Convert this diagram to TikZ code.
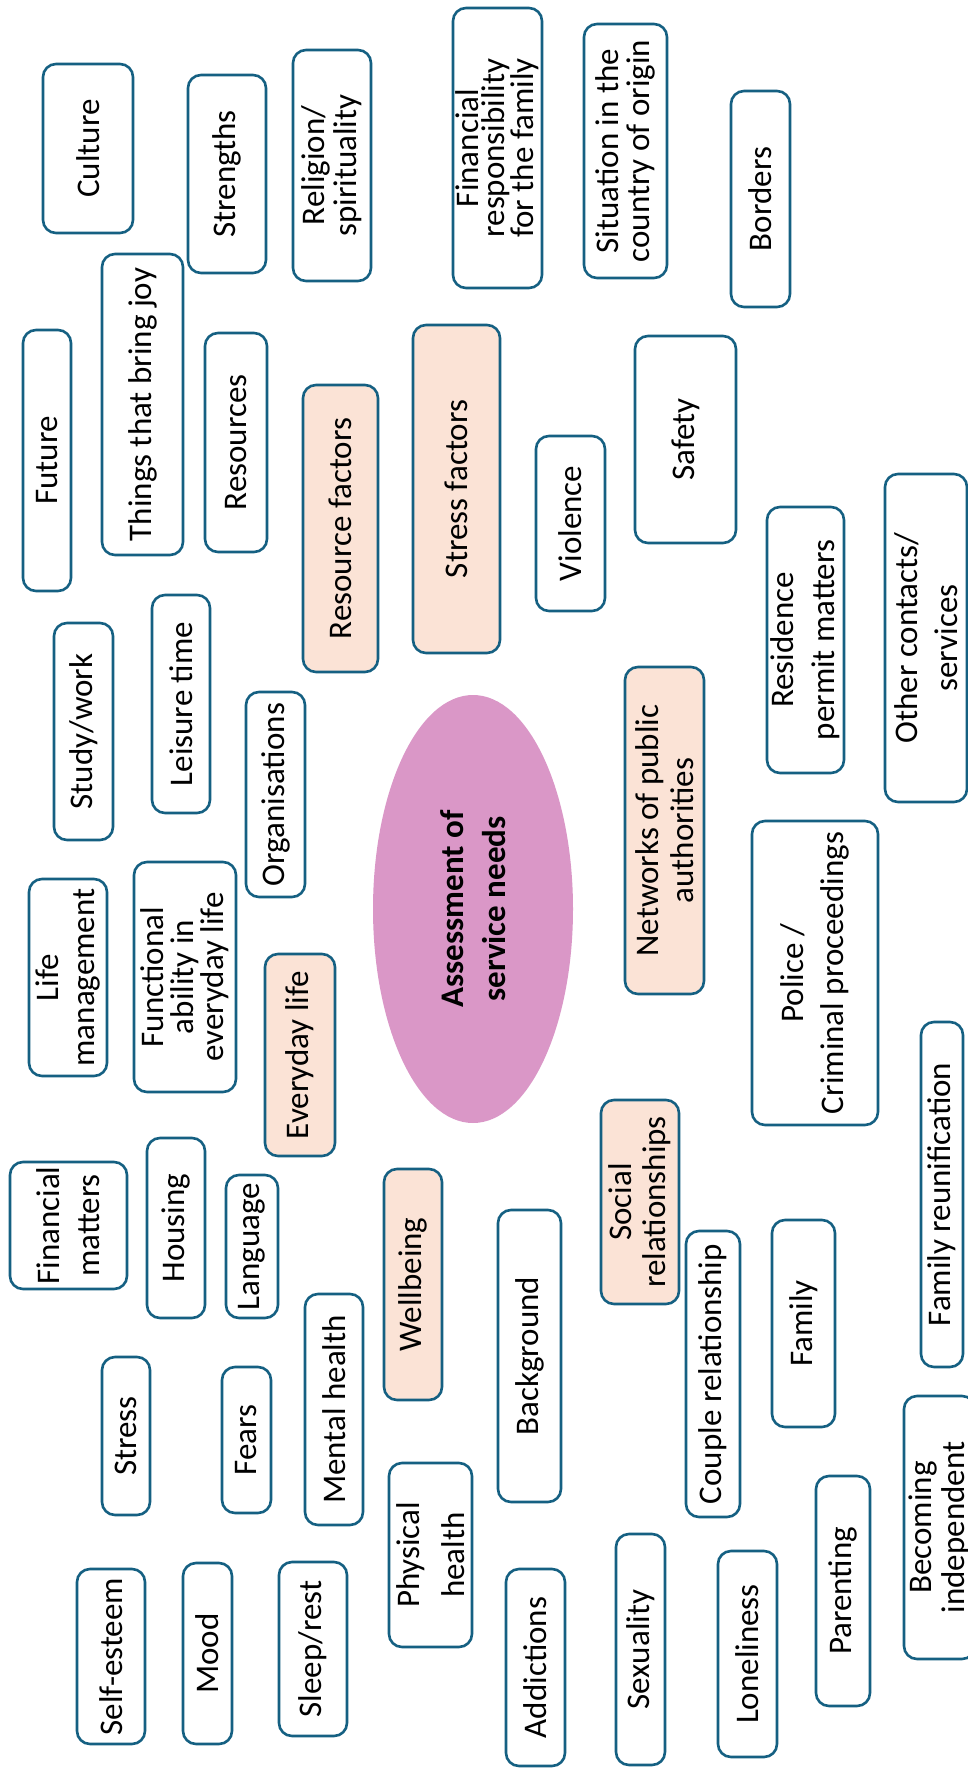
\documentclass[tikz,border=0pt]{standalone}
\usepackage{fontspec}
\setmainfont{Carlito}
\usetikzlibrary{shapes.geometric}
\definecolor{bord}{HTML}{156082}
\definecolor{peach}{HTML}{FBE3D6}
\definecolor{pinkell}{HTML}{DA97C7}
\tikzset{
  box/.style={draw=bord, line width=2.6pt, rounded corners=13pt, rotate=90,
    inner sep=0pt, align=center, fill=white, text=black,
    font=\fontsize{33}{40}\selectfont},
  peachbox/.style={fill=peach},
  lsk/.style={font=\fontsize{33}{#1}\selectfont},
  centre/.style={ellipse, fill=pinkell, draw=none, rotate=90, inner sep=0pt,
    align=center, font=\fontsize{33}{42}\selectfont\bfseries}
}
% [style]{name}{x1}{y1}{x2}{y2}{text}
\newcommand{\mybox}[7][]{\node[box,#1,minimum width={(#6-#4)*1pt},minimum height={(#5-#3)*1pt}] (#2) at ({(#3+#5)/2},{(#4+#6)/2}) {#7};}
\begin{document}
\begin{tikzpicture}[x=1pt,y=-1pt]
\useasboundingbox (0,0) rectangle (968,1768);
\fill[white] (0,0) rectangle (968,1768);
\node[centre, minimum width=428pt, minimum height=200pt] (centre) at (473,909) {Assessment of\\service needs};
% top region
\mybox{culture}{43}{64}{133}{233}{Culture}
\mybox{strengths}{188}{75}{266}{273}{Strengths}
\mybox[lsk=32]{religion}{293}{50}{371}{281}{Religion/\\spirituality}
\mybox[lsk=26]{finresp}{453}{8}{542}{288}{Financial\\responsibility\\for the family}
\mybox[lsk=31]{situation}{584}{24}{667}{278}{Situation in the\\country of origin}
\mybox{borders}{731}{91}{790}{307}{Borders}
\mybox{future}{23}{330}{71}{591}{Future}
\mybox{joy}{102}{254}{183}{555}{Things that bring joy}
\mybox{resources}{205}{333}{267}{552}{Resources}
\mybox[peachbox]{resfac}{303}{385}{378}{672}{Resource factors}
\mybox[peachbox]{stressfac}{413}{325}{500}{653}{Stress factors}
\mybox{violence}{536}{436}{605}{611}{Violence}
\mybox{safety}{635}{336}{736}{543}{Safety}
\mybox[lsk=41]{residence}{767}{507}{844}{773}{Residence\\permit matters}
\mybox{other}{885}{474}{967}{802}{Other contacts/\\services}
% middle region
\mybox{study}{54}{623}{113}{840}{Study/work}
\mybox{leisure}{152}{595}{210}{813}{Leisure time}
\mybox{organisations}{246}{692}{305}{897}{Organisations}
\mybox[lsk=36]{lifemgmt}{29}{879}{107}{1076}{Life\\management}
\mybox[lsk=30]{functional}{134}{862}{236}{1092}{Functional\\ability in\\everyday life}
\mybox[peachbox]{everyday}{265}{954}{335}{1156}{Everyday life}
\mybox[peachbox,lsk=35]{networks}{625}{667}{704}{994}{Networks of public\\authorities}
\mybox{police}{752}{821}{878}{1125}{Police /\\Criminal proceedings}
\mybox{famreun}{921}{1022}{963}{1367}{Family reunification}
\mybox[peachbox,lsk=34]{social}{601}{1100}{679}{1304}{Social\\relationships}
% bottom region
\mybox{finmat}{10}{1162}{127}{1289}{Financial\\matters}
\mybox{housing}{147}{1138}{205}{1318}{Housing}
\mybox{language}{226}{1175}{278}{1318}{Language}
\mybox[peachbox]{wellbeing}{384}{1169}{442}{1400}{Wellbeing}
\mybox{background}{498}{1210}{561}{1502}{Background}
\mybox{couple}{686}{1231}{740}{1517}{Couple relationship}
\mybox{family}{772}{1220}{835}{1427}{Family}
\mybox{stress}{102}{1357}{150}{1515}{Stress}
\mybox{fears}{222}{1367}{271}{1513}{Fears}
\mybox{mental}{305}{1294}{363}{1525}{Mental health}
\mybox[lsk=45]{physical}{389}{1463}{472}{1647}{Physical\\health}
\mybox{selfesteem}{77}{1569}{145}{1744}{Self-esteem}
\mybox{mood}{183}{1563}{232}{1744}{Mood}
\mybox{sleep}{279}{1562}{347}{1736}{Sleep/rest}
\mybox{addictions}{506}{1569}{565}{1766}{Addictions}
\mybox{sexuality}{616}{1534}{665}{1765}{Sexuality}
\mybox{loneliness}{718}{1551}{777}{1757}{Loneliness}
\mybox{parenting}{816}{1476}{870}{1706}{Parenting}
\mybox[lsk=33]{becoming}{904}{1396}{975}{1659}{Becoming\\independent}
\end{tikzpicture}
\end{document}
